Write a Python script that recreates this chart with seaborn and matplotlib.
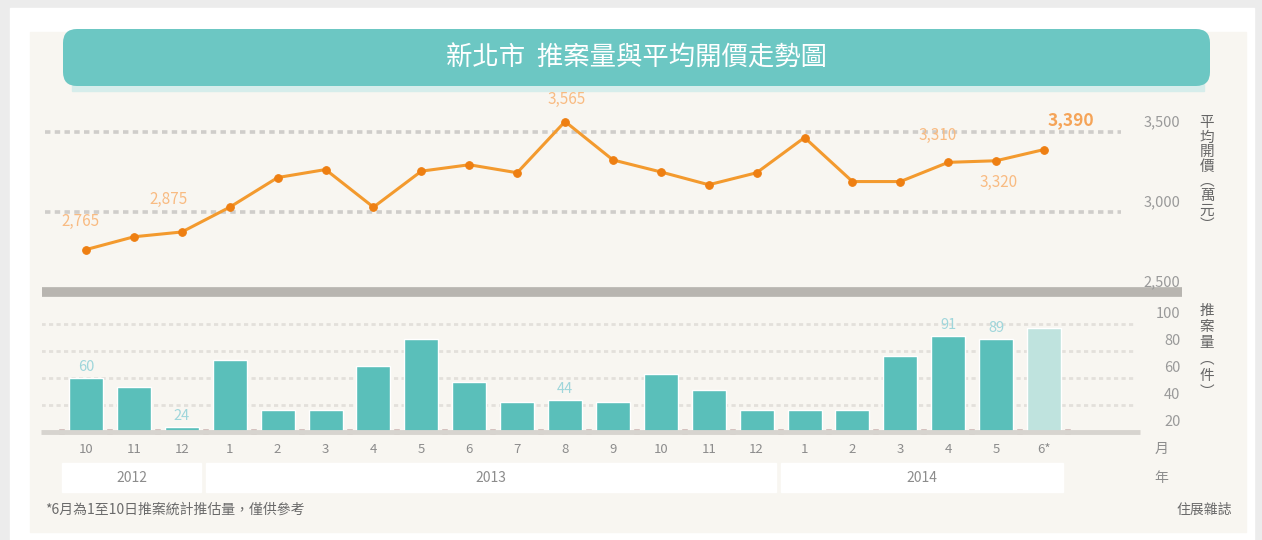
import matplotlib
matplotlib.use("Agg")
import matplotlib.pyplot as plt
from matplotlib.patches import Rectangle, FancyBboxPatch
from matplotlib.transforms import IdentityTransform, blended_transform_factory
import pandas as pd
import seaborn as sns

# ---- data ----
months = ["10", "11", "12", "1", "2", "3", "4", "5", "6", "7", "8", "9",
          "10", "11", "12", "1", "2", "3", "4", "5", "6*"]
years = ["2012", "2013", "2014"]
year_spans = [(0, 2), (3, 14), (15, 20)]

price = [2765, 2845, 2875, 3030, 3215, 3265, 3030, 3255, 3295, 3245, 3565,
         3325, 3250, 3170, 3245, 3465, 3190, 3190, 3310, 3320, 3390]
units = [60, 53, 24, 73, 36, 36, 69, 89, 57, 42, 44, 42,
         63, 51, 36, 36, 36, 76, 91, 89, 97]

price_labeled = [0, 2, 10, 18, 19, 20]
units_labeled = [0, 2, 10, 18, 19]
price_ticks = [2500, 3000, 3500]
unit_ticks = [20, 40, 60, 80, 100]

title = "新北市  推案量與平均開價走勢圖"
price_unit = "平均開價︵萬元︶"
units_unit = "推案量︵件︶"
footnote = "*6月為1至10日推案統計推估量，僅供參考"
source = "住展雜誌"

# ---- style ----
sns.set_theme(style="white")
plt.rcParams["font.family"] = ["Noto Sans CJK TC", "DejaVu Sans"]

W, H = 1262, 540
fig = plt.figure(figsize=(W / 100, H / 100), dpi=100)
fig.patch.set_facecolor("#ececec")


def box(l, t, r, b):
    return [l / W, 1 - b / H, (r - l) / W, (b - t) / H]


# background panels and title banner (pixel coords)
fig.add_artist(Rectangle((10, 0), 1244, 532, transform=IdentityTransform(),
                         color="white", zorder=-3))
fig.add_artist(Rectangle((30, 8), 1216, 500, transform=IdentityTransform(),
                         color="#f8f6f1", zorder=-2))
fig.add_artist(Rectangle((72, H - 91), 1132, 7, transform=IdentityTransform(),
                         color="#d6edeb", zorder=-1))
fig.add_artist(FancyBboxPatch((63, H - 86), 1147, 57,
                              boxstyle="round,pad=0,rounding_size=14",
                              transform=IdentityTransform(),
                              fc="#6cc7c3", ec="none", zorder=-1))
fig.text(637 / W, 1 - 58 / H, title, color="white", fontsize=19,
         fontweight="medium", ha="center", va="center")

idx = list(range(len(months)))
xlim = (-0.92, 22.88)

# ---- line chart: price ----
ax1 = fig.add_axes(box(42, 90, 1182, 292))
ax1.patch.set_alpha(0)
ax1.hlines([3000, 3500], -0.86, 21.6, colors="#cfcdca", lw=2.6,
           linestyles=(0, (1.5, 1.2)), zorder=0)
ax1.axhline(2500, color="#b8b5b0", lw=7, clip_on=False, zorder=1,
            solid_capstyle="butt")
sns.lineplot(x=idx, y=price, ax=ax1, color="#f39a2e", lw=2.2, marker="o",
             markersize=5.5, markerfacecolor="#ee7f12",
             markeredgecolor="#ee7f12", zorder=3)
ax1.set_xlim(*xlim)
ax1.set_ylim(2500, 3762)

offsets = {0: (-6, 28), 2: (-13, 33), 10: (2, 22), 18: (-11, 27),
           19: (2, -22), 20: (27, 29)}
for i in price_labeled:
    last = i == idx[-1]
    ax1.annotate(f"{price[i]:,}", (i, price[i]), xytext=offsets[i],
                 textcoords="offset pixels", ha="center", va="center",
                 color="#f5a458" if last else "#f8bb82",
                 fontsize=12.5 if last else 11,
                 fontweight="bold" if last else "normal")
for t in price_ticks:
    ax1.annotate(f"{t:,}", (22.85, t), xytext=(0, 3), textcoords="offset pixels",
                 ha="right", va="bottom", fontsize=10.5, color="#9a9a9a",
                 annotation_clip=False)
ax1.set_axis_off()

# ---- bar chart: units ----
ax2 = fig.add_axes(box(42, 300, 1182, 432))
ax2.patch.set_alpha(0)
df = pd.DataFrame({"i": idx, "v": units,
                   "kind": ["est" if m.endswith("*") else "actual" for m in months]})
ax2.hlines([40, 60, 80, 100], -0.95, 21.9, colors="#e3e0db", lw=2,
           linestyles=(0, (1.5, 1.2)), zorder=0)
sns.barplot(data=df, x="i", y="v", hue="kind",
            palette={"actual": "#5abfba", "est": "#bfe3de"}, saturation=1,
            dodge=False, width=0.71, errorbar=None, legend=False, ax=ax2,
            zorder=2)
ax2.hlines(20, -0.95, 22.0, colors="#d7d4cf", lw=3.5, clip_on=False, zorder=3)
ax2.set_xlim(*xlim)
ax2.set_ylim(20, 117.8)

for i in units_labeled:
    ax2.annotate(str(units[i]), (i, units[i]), xytext=(0, 4),
                 textcoords="offset pixels", ha="center", va="bottom",
                 color="#9fd6db", fontsize=10.5)
for t in unit_ticks:
    ax2.annotate(str(t), (22.85, t), xytext=(0, 3), textcoords="offset pixels",
                 ha="right", va="bottom", fontsize=10.5, color="#9a9a9a",
                 annotation_clip=False)

ax2.set_xticks(idx)
ax2.set_xticklabels(months, fontsize=9.5, color="#8c8c8c")
ax2.set_xticks([i + 0.5 for i in range(-1, len(months))], minor=True)
ax2.tick_params(axis="x", which="major", length=0, pad=8)
ax2.tick_params(axis="x", which="minor", length=4, width=4, color="#d5c2bf",
                direction="inout", bottom=True)
ax2.set_yticks([])
ax2.set_xlabel("")
ax2.set_ylabel("")
sns.despine(ax=ax2, left=True, bottom=True)

blend = blended_transform_factory(ax2.transData, ax2.transAxes)
for (s, e), y in zip(year_spans, years):
    x0, x1 = s - 0.5, e + 0.4
    ax2.add_patch(Rectangle((x0, -0.4545), x1 - x0, 0.22, transform=blend,
                            color="white", clip_on=False, zorder=1))
    ax2.text((x0 + x1) / 2, -0.348, y, transform=blend, ha="center",
             va="center", fontsize=10, color="#8c8c8c")
ax2.text(22.45, -0.129, "月", transform=blend, ha="center", va="center",
         fontsize=10, color="#8c8c8c")
ax2.text(22.45, -0.348, "年", transform=blend, ha="center", va="center",
         fontsize=10, color="#8c8c8c")

# ---- side units, footnote, source ----
fig.text(1207 / W, 1 - 116 / H, "\n".join(price_unit), ha="center", va="top",
         fontsize=10.5, linespacing=1.05, color="#666666")
fig.text(1207 / W, 1 - 304 / H, "\n".join(units_unit), ha="center", va="top",
         fontsize=10.5, linespacing=1.2, color="#666666")
fig.text(45 / W, 1 - 510 / H, footnote, ha="left", va="center",
         fontsize=10, color="#6a6a6a")
fig.text(1232 / W, 1 - 510 / H, source, ha="right", va="center",
         fontsize=10, color="#6a6a6a")

fig.savefig("out.png", dpi=100, facecolor=fig.get_facecolor())
